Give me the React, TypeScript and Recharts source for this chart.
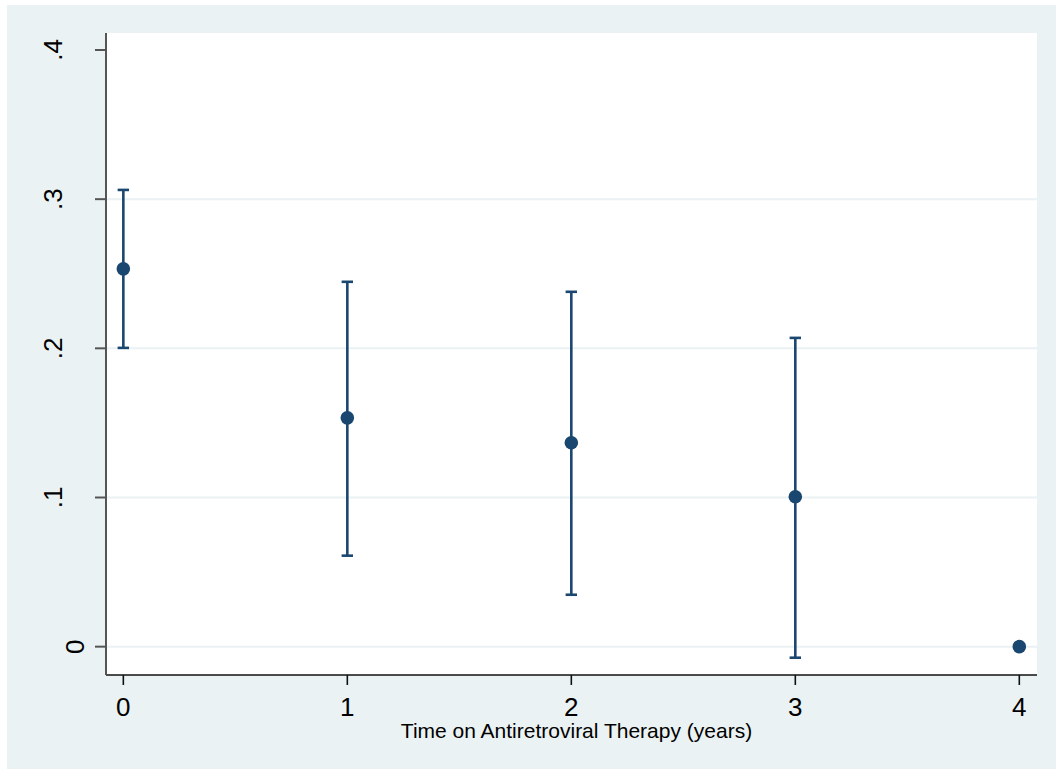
import React from 'react';
import {
  ScatterChart,
  Scatter,
  XAxis,
  YAxis,
  CartesianGrid,
  ErrorBar
} from 'recharts';

// years on therapy
const years = [0, 1, 2, 3, 4];
// point estimates and 95% CI
const estimates = [0.2533, 0.1534, 0.1367, 0.1005, 0];
const lowerCI = [0.2003, 0.061, 0.0348, -0.0074, null];
const upperCI = [0.3062, 0.2446, 0.2379, 0.207, null];

const xTicks = [0, 1, 2, 3, 4];
const yTicks = [0, 0.1, 0.2, 0.3, 0.4];
const gridValues = [0, 0.1, 0.2, 0.3];

const xTitle = 'Time on Antiretroviral Therapy (years)';

const NAVY = '#1a476f';
const PANEL = '#eaf2f3';
const FONT = '"Liberation Sans", Arial, sans-serif';

const chartData = years.map((yr, i) => ({
  year: yr,
  est: estimates[i],
  err:
    lowerCI[i] == null || upperCI[i] == null
      ? null
      : [estimates[i] - (lowerCI[i] as number), (upperCI[i] as number) - estimates[i]]
}));

function fmtY(v: number) {
  if (v === 0) return '0';
  return v.toFixed(1).replace(/^0/, '');
}

// Stata-style vertical y labels
function YTick(props: any) {
  const { x, y, payload } = props;
  const label = fmtY(payload.value);
  const bx = label === '0' ? x - 11 : x - 33;
  return (
    <text
      x={bx}
      y={y}
      transform={`rotate(-90, ${bx}, ${y})`}
      textAnchor="middle"
      fontSize={26}
      fontFamily={FONT}
      fill="#000"
    >
      {label}
    </text>
  );
}

function Dot(props: any) {
  const { cx, cy } = props;
  return <circle cx={cx} cy={cy} r={6.8} fill={NAVY} />;
}

export default function App() {
  return (
    <div style={{ position: 'absolute', left: 0, top: 0, width: 1056, height: 769, background: '#fff' }}>
      <div style={{ position: 'absolute', left: 7, top: 5, width: 1049, height: 764, background: PANEL }}>
        <ScatterChart
          width={1049}
          height={764}
          margin={{ top: 28, right: 19, left: 19, bottom: 34 }}
        >
          <CartesianGrid
            fill="#fff"
            fillOpacity={1}
            vertical={false}
            horizontalValues={gridValues}
            stroke={PANEL}
            strokeWidth={2}
          />
          <XAxis
            type="number"
            dataKey="year"
            domain={[-0.0774, 4.079]}
            ticks={xTicks}
            allowDataOverflow
            height={60}
            tickSize={10}
            tickMargin={13}
            stroke="#111"
            strokeWidth={1.6}
            tick={{ fontSize: 26, fontFamily: FONT, fill: '#000' }}
            label={(p: any) => {
              const vb = p.viewBox || {};
              return (
                <text
                  x={vb.x + vb.width / 2 + 5}
                  y={vb.y + 63}
                  textAnchor="middle"
                  fontSize={21}
                  fontFamily={FONT}
                  fill="#000"
                >
                  {xTitle}
                </text>
              );
            }}
          />
          <YAxis
            type="number"
            dataKey="est"
            domain={[-0.019, 0.4114]}
            ticks={yTicks}
            allowDataOverflow
            width={80}
            tickSize={11}
            tickMargin={0}
            stroke="#555"
            strokeWidth={2}
            tick={<YTick />}
          />
          <Scatter data={chartData} dataKey="est" shape={<Dot />} isAnimationActive={false}>
            <ErrorBar
              dataKey="err"
              direction="y"
              width={5.7}
              stroke={NAVY}
              strokeWidth={2.6}
              isAnimationActive={false}
            />
          </Scatter>
        </ScatterChart>
      </div>
    </div>
  );
}
